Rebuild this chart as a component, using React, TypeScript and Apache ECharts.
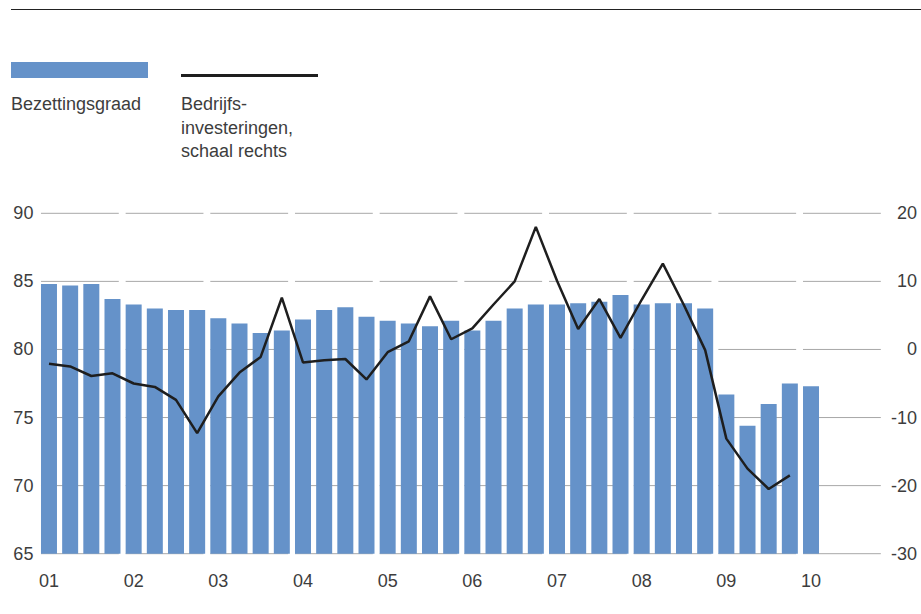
import React, { useEffect, useRef } from "react";
import * as echarts from "echarts";

const yearLabels = ["01", "02", "03", "04", "05", "06", "07", "08", "09", "10"];
const quarters = ["Q1", "Q2", "Q3", "Q4"];
const categories: string[] = yearLabels.flatMap((y) => quarters.map((q) => `${y}${q}`));

// Bezettingsgraad (left scale), 01Q1 .. 10Q1
const bezettingsgraad = [
  84.8, 84.7, 84.8, 83.7,
  83.3, 83.0, 82.9, 82.9,
  82.3, 81.9, 81.2, 81.4,
  82.2, 82.9, 83.1, 82.4,
  82.1, 81.9, 81.7, 82.1,
  81.4, 82.1, 83.0, 83.3,
  83.3, 83.4, 83.5, 84.0,
  83.3, 83.4, 83.4, 83.0,
  76.7, 74.4, 76.0, 77.5,
  77.3,
];

// Bedrijfsinvesteringen (right scale), 01Q1 .. 09Q4
const bedrijfsinvesteringen = [
  -2.1, -2.5, -3.9, -3.5,
  -5.0, -5.5, -7.4, -12.3,
  -6.9, -3.4, -1.1, 7.6,
  -1.9, -1.6, -1.4, -4.4,
  -0.4, 1.2, 7.8, 1.5,
  3.1, 6.6, 10.0, 18.0,
  10.1, 3.0, 7.4, 1.7,
  7.3, 12.6, 6.5, -0.1,
  -13.1, -17.5, -20.5, -18.5,
];

const leftTicks = [65, 70, 75, 80, 85, 90];

const FONT = "'Liberation Sans', Arial, sans-serif";
const FS = 18;
const TEXT = "#3d3d3d";
const BLUE = "#6592c9";
const GRID = "#a8a8a8";

export default function App() {
  const ref = useRef<HTMLDivElement>(null);
  useEffect(() => {
    if (!ref.current) return;
    const chart = echarts.init(ref.current, null, { renderer: "svg" });

    const gridData: number[][] = [];
    yearLabels.forEach((_, yi) => {
      leftTicks.forEach((t) => gridData.push([yi, t]));
    });

    chart.setOption({
      animation: false,
      textStyle: { fontFamily: FONT },
      grid: { left: 38.4, right: 35.9, top: 213.3, height: 340.4, containLabel: false },
      xAxis: {
        type: "category",
        data: categories,
        boundaryGap: true,
        axisLine: { show: false },
        axisTick: { show: false },
        axisLabel: {
          interval: 3,
          margin: 18,
          fontSize: FS,
          color: TEXT,
          fontFamily: FONT,
          formatter: (v: string) => v.slice(0, 2),
        },
        splitLine: { show: false },
      },
      yAxis: [
        {
          type: "value",
          min: 65,
          max: 90,
          interval: 5,
          axisLine: { show: false },
          axisTick: { show: false },
          splitLine: { show: false },
          axisLabel: { fontSize: FS, color: TEXT, margin: 5, fontFamily: FONT },
        },
        {
          type: "value",
          min: -30,
          max: 20,
          interval: 10,
          position: "right",
          axisLine: { show: false },
          axisTick: { show: false },
          splitLine: { show: false },
          axisLabel: { fontSize: FS, color: TEXT, margin: 32, align: "right", fontFamily: FONT },
        },
      ],
      series: [
        {
          type: "custom",
          silent: true,
          z: 1,
          xAxisIndex: 0,
          yAxisIndex: 0,
          data: gridData,
          renderItem: (params: any, api: any) => {
            const yi = api.value(0);
            const t = api.value(1);
            const a = api.coord([yi * 4, t]);
            const b = api.coord([yi * 4 + 3, t]);
            return {
              type: "line",
              shape: { x1: a[0] - 8, y1: a[1], x2: b[0] + 6.3, y2: a[1] },
              style: { stroke: GRID, lineWidth: 1 },
            };
          },
        },
        {
          type: "bar",
          name: "Bezettingsgraad",
          data: bezettingsgraad,
          barWidth: 16,
          z: 2,
          itemStyle: { color: BLUE },
          yAxisIndex: 0,
        },
        {
          type: "line",
          name: "Bedrijfsinvesteringen",
          data: bedrijfsinvesteringen,
          yAxisIndex: 1,
          z: 3,
          symbol: "none",
          lineStyle: { color: "#1e1e1e", width: 2.5 },
        },
      ],
      graphic: [
        {
          type: "line",
          shape: { x1: 11, y1: 9.5, x2: 921, y2: 9.5 },
          style: { stroke: "#222", lineWidth: 1 },
        },
        {
          type: "rect",
          shape: { x: 11, y: 62, width: 137, height: 16 },
          style: { fill: BLUE },
        },
        {
          type: "line",
          shape: { x1: 181, y1: 75.5, x2: 318, y2: 75.5 },
          style: { stroke: "#1e1e1e", lineWidth: 3 },
        },
        {
          type: "text",
          x: 11,
          y: 104,
          style: { text: "Bezettingsgraad", fill: TEXT, font: `${FS}px ${FONT}`, verticalAlign: "middle" },
        },
        {
          type: "text",
          x: 181,
          y: 104,
          style: { text: "Bedrijfs-", fill: TEXT, font: `${FS}px ${FONT}`, verticalAlign: "middle" },
        },
        {
          type: "text",
          x: 181,
          y: 127.5,
          style: { text: "investeringen,", fill: TEXT, font: `${FS}px ${FONT}`, verticalAlign: "middle" },
        },
        {
          type: "text",
          x: 181,
          y: 151,
          style: { text: "schaal rechts", fill: TEXT, font: `${FS}px ${FONT}`, verticalAlign: "middle" },
        },
      ],
    });
    return () => chart.dispose();
  }, []);
  return (
    <div
      ref={ref}
      style={{ position: "absolute", left: 0, top: 0, width: 921, height: 614, background: "#fff" }}
    />
  );
}
